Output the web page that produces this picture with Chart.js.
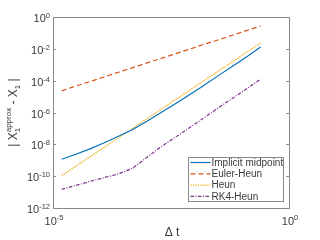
<!DOCTYPE html>
<html>
<head>
<meta charset="utf-8">
<script src="https://cdn.jsdelivr.net/npm/chart.js@4.4.1/dist/chart.umd.min.js"></script>
<style>
html, body { margin: 0; padding: 0; background: #fff; }
canvas { display: block; }
</style>
</head>
<body>
<canvas id="err" width="320" height="240"></canvas>
<script>
// step sizes (2^-16 ... 2^-2)
const dtValues = [1.52587890625e-5, 3.0517578125e-5, 6.103515625e-5, 1.220703125e-4, 2.44140625e-4,
    4.8828125e-4, 9.765625e-4, 1.953125e-3, 3.90625e-3, 7.8125e-3, 1.5625e-2, 3.125e-2, 6.25e-2, 0.125, 0.25];

const implicitMidpoint = [1.15e-9, 2.4e-9, 5.2e-9, 1.25e-8, 3.2e-8, 8.6e-8, 2.8e-7, 1.0e-6, 3.5e-6, 1.3e-5, 5.0e-5, 2.0e-4, 7.8e-4, 3.1e-3, 1.3e-2];
const eulerHeun = [2.3e-5, 4.6e-5, 8.9e-5, 1.7e-4, 3.4e-4, 6.6e-4, 1.3e-3, 2.5e-3, 4.9e-3, 9.5e-3, 1.9e-2, 3.6e-2, 7.1e-2, 0.14, 0.27];
const heun = [1.07e-10, 4.3e-10, 1.66e-9, 6.6e-9, 2.6e-8, 1.0e-7, 4.0e-7, 1.6e-6, 6.3e-6, 2.5e-5, 9.8e-5, 3.8e-4, 1.5e-3, 6.0e-3, 2.3e-2];
const rk4Heun = [1.5e-11, 2.6e-11, 4.7e-11, 8.1e-11, 1.4e-10, 3.2e-10, 1.5e-9, 7.1e-9, 2.8e-8, 1.1e-7, 4.5e-7, 1.9e-6, 7.6e-6, 3.0e-5, 1.23e-4];

const seriesNames = ['Implicit midpoint', 'Euler-Heun', 'Heun', 'RK4-Heun'];
const yTickExponents = [0, -2, -4, -6, -8, -10, -12];
const xTickExponents = [-5, 0];

const FONT = '"Liberation Sans", Arial, sans-serif';
const TEXT = '#3a3a3a';
const AXIS = '#8a8a8a';

function pairs(vals) {
    return dtValues.map(function(d, i) { return { x: d, y: vals[i] }; });
}

// draws a run of text pieces; a piece may carry sub/sup stacked
function richWidth(ctx, parts) {
    let w = 0;
    parts.forEach(function(p) {
        ctx.font = p.size + 'px ' + FONT;
        if (p.stack) {
            w += Math.max(ctx.measureText(p.sub).width, ctx.measureText(p.sup).width);
        } else {
            w += ctx.measureText(p.t).width;
        }
    });
    return w;
}

function drawRich(ctx, parts, x, y, align) {
    const w = richWidth(ctx, parts);
    let cx = align === 'right' ? x - w : (align === 'center' ? x - w / 2 : x);
    ctx.textAlign = 'left';
    ctx.textBaseline = 'alphabetic';
    parts.forEach(function(p) {
        ctx.font = p.size + 'px ' + FONT;
        if (p.stack) {
            ctx.fillText(p.sub, cx, y + p.subDy);
            ctx.fillText(p.sup, cx, y + p.supDy);
            cx += Math.max(ctx.measureText(p.sub).width, ctx.measureText(p.sup).width);
        } else {
            ctx.fillText(p.t, cx, y + (p.dy || 0));
            cx += ctx.measureText(p.t).width;
        }
    });
}

const axesDecor = {
    id: 'axesDecor',
    afterDraw(chart) {
        const ctx = chart.ctx;
        const a = chart.chartArea;
        const xs = chart.scales.x, ys = chart.scales.y;
        ctx.save();

        // box
        ctx.strokeStyle = AXIS;
        ctx.lineWidth = 1;
        ctx.strokeRect(Math.round(a.left) + 0.5, Math.round(a.top) + 0.5,
            Math.round(a.right - a.left), Math.round(a.bottom - a.top));

        // inward ticks + labels on y
        ctx.fillStyle = TEXT;
        yTickExponents.forEach(function(e) {
            const py = Math.round(ys.getPixelForValue(Math.pow(10, e))) + 0.5;
            ctx.beginPath();
            ctx.moveTo(a.left, py); ctx.lineTo(a.left + 3, py);
            ctx.moveTo(a.right, py); ctx.lineTo(a.right - 3, py);
            ctx.stroke();
            drawRich(ctx, [
                { t: '10', size: 11 },
                { t: String(e), size: 7.5, dy: -4.5 }
            ], a.left - 3, py + 4.5, 'right');
        });

        xTickExponents.forEach(function(e) {
            const px = xs.getPixelForValue(Math.pow(10, e));
            drawRich(ctx, [
                { t: '10', size: 11 },
                { t: String(e), size: 7.5, dy: -5 }
            ], px + 1, a.bottom + 16.5, 'center');
        });

        // x title
        drawRich(ctx, [{ t: '\u0394 t', size: 12 }], (a.left + a.right) / 2 + 1, 236, 'center');

        // y title
        ctx.save();
        ctx.translate(17, (a.top + a.bottom) / 2);
        ctx.rotate(-Math.PI / 2);
        drawRich(ctx, [
            { t: '| X', size: 12 },
            { stack: true, sub: '1', sup: 'approx', size: 8, subDy: 3, supDy: -6 },
            { t: ' - X', size: 12 },
            { t: '1', size: 8, dy: 3 },
            { t: ' |', size: 12 }
        ], 0, 0, 'center');
        ctx.restore();

        // legend
        const lx = 188.5, ly = 157.5, lw = 95, lh = 44;
        ctx.fillStyle = '#fff';
        ctx.fillRect(lx, ly, lw, lh);
        ctx.strokeStyle = AXIS;
        ctx.lineWidth = 1;
        ctx.strokeRect(lx, ly, lw, lh);
        chart.data.datasets.forEach(function(ds, i) {
            const ry = ly + 5 + i * 11.3;
            ctx.strokeStyle = ds.borderColor;
            ctx.lineWidth = ds.borderWidth;
            ctx.setLineDash(ds.borderDash || []);
            ctx.beginPath();
            ctx.moveTo(lx + 2, ry); ctx.lineTo(lx + 22, ry);
            ctx.stroke();
            ctx.setLineDash([]);
            ctx.fillStyle = TEXT;
            ctx.font = '10px ' + FONT;
            ctx.textAlign = 'left';
            ctx.textBaseline = 'middle';
            ctx.fillText(ds.label, lx + 23, ry + 0.5);
        });
        ctx.restore();
    }
};

const chartConfig = {
    type: 'line',
    data: {
        datasets: [
            { label: seriesNames[0], data: pairs(implicitMidpoint), borderColor: '#0072BD', borderWidth: 1.2, borderDash: [] },
            { label: seriesNames[1], data: pairs(eulerHeun), borderColor: '#D95319', borderWidth: 1.2, borderDash: [5, 3] },
            { label: seriesNames[2], data: pairs(heun), borderColor: '#EDB120', borderWidth: 1.4, borderDash: [1.3, 1.1] },
            { label: seriesNames[3], data: pairs(rk4Heun), borderColor: '#7E2F8E', borderWidth: 1.2, borderDash: [3.5, 1.5, 1, 1.5] }
        ]
    },
    options: {
        responsive: false,
        animation: false,
        layout: { padding: { left: 53, right: 31, top: 17, bottom: 32 } },
        elements: { point: { radius: 0 }, line: { tension: 0 } },
        plugins: { legend: { display: false }, tooltip: { enabled: false } },
        scales: {
            x: { type: 'logarithmic', min: 1e-5, max: 1, display: false },
            y: { type: 'logarithmic', min: 1e-12, max: 1, display: false }
        }
    },
    plugins: [axesDecor]
};

new Chart(document.getElementById('err'), chartConfig);
</script>
</body>
</html>
